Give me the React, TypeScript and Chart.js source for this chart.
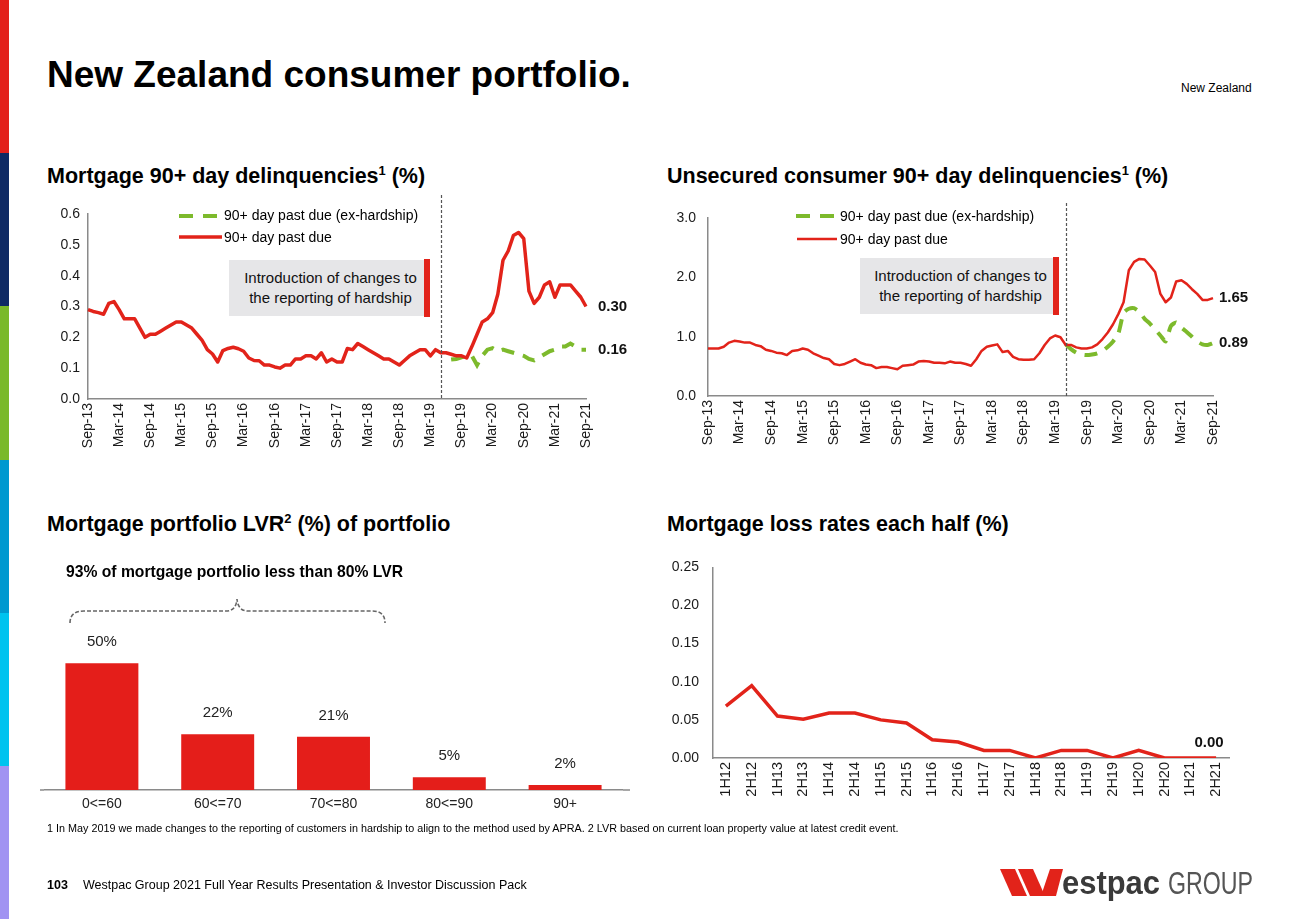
import React, { useEffect, useRef } from "react";
import { Chart, registerables } from "chart.js";
Chart.register(...registerables);

const FONT = "Arial, 'Liberation Sans', Helvetica, sans-serif";
Chart.defaults.font.family = FONT;

const RED = "#e2231a";
const GREEN = "#7dba2c";
const AXIS = "#8a8a8a";
const TXT = "#1a1a1a";

// ---------- DATA ----------
const monthNames = ["Jan", "Feb", "Mar", "Apr", "May", "Jun", "Jul", "Aug", "Sep", "Oct", "Nov", "Dec"];
const months: string[] = [];
for (let i = 0; i < 97; i++) {
  const m = (8 + i) % 12;
  const y = 13 + Math.floor((8 + i) / 12);
  months.push(`${monthNames[m]}-${y}`);
}
const monthTicks = ["Sep-13", "Mar-14", "Sep-14", "Mar-15", "Sep-15", "Mar-16", "Sep-16", "Mar-17", "Sep-17", "Mar-18", "Sep-18", "Mar-19", "Sep-19", "Mar-20", "Sep-20", "Mar-21", "Sep-21"];
const hardshipChangeMonth = "May-19";

const mortgageTotal = [
  0.29, 0.284, 0.28, 0.275, 0.31, 0.316, 0.29, 0.26, 0.26, 0.26,
  0.23, 0.2, 0.21, 0.21, 0.22, 0.23, 0.24, 0.25, 0.25, 0.24,
  0.23, 0.21, 0.19, 0.16, 0.146, 0.12, 0.157, 0.164, 0.168, 0.163,
  0.155, 0.133, 0.125, 0.124, 0.11, 0.11, 0.104, 0.1, 0.11, 0.11,
  0.13, 0.13, 0.14, 0.14, 0.13, 0.15, 0.12, 0.13, 0.12, 0.12,
  0.164, 0.16, 0.18, 0.17, 0.16, 0.15, 0.14, 0.13, 0.13, 0.12,
  0.11, 0.125, 0.14, 0.15, 0.16, 0.16, 0.14, 0.16, 0.15, 0.15,
  0.145, 0.14, 0.14, 0.133, 0.17, 0.21, 0.25, 0.26, 0.28, 0.34,
  0.45, 0.48, 0.53, 0.54, 0.52, 0.35, 0.31, 0.33, 0.37, 0.38,
  0.33, 0.37, 0.37, 0.37, 0.35, 0.33, 0.3,
];
const mortgageExHardshipTail = [
  0.128, 0.13, 0.135, 0.14, 0.14, 0.11, 0.14, 0.16, 0.165, 0.155,
  0.16, 0.155, 0.15, 0.145, 0.14, 0.13, 0.125, 0.135, 0.145, 0.155,
  0.16, 0.17, 0.17, 0.18, 0.17, 0.16, 0.16,
];

const unsecuredTotal = [
  0.8, 0.8, 0.8, 0.83, 0.9, 0.93, 0.92, 0.9, 0.9, 0.86,
  0.84, 0.78, 0.76, 0.73, 0.72, 0.69, 0.76, 0.77, 0.8, 0.78,
  0.72, 0.68, 0.64, 0.62, 0.54, 0.52, 0.54, 0.58, 0.62, 0.56,
  0.53, 0.52, 0.47, 0.49, 0.49, 0.47, 0.45, 0.51, 0.52, 0.53,
  0.58, 0.59, 0.58, 0.56, 0.56, 0.55, 0.58, 0.56, 0.56, 0.54,
  0.51, 0.62, 0.76, 0.83, 0.85, 0.87, 0.74, 0.76, 0.66, 0.62,
  0.61, 0.61, 0.62, 0.72, 0.86, 0.97, 1.02, 0.99, 0.86, 0.86,
  0.82, 0.8, 0.8, 0.82, 0.87, 0.96, 1.07, 1.21, 1.38, 1.58,
  2.12, 2.26, 2.31, 2.3, 2.2, 2.09, 1.72, 1.58, 1.66, 1.93,
  1.95, 1.89, 1.8, 1.72, 1.62, 1.62, 1.65,
];
const unsecuredExHardshipTail = [
  0.87, 0.79, 0.73, 0.7, 0.69, 0.7, 0.72, 0.76, 0.83, 0.92,
  1.05, 1.4, 1.47, 1.48, 1.42, 1.3, 1.22, 1.12, 1.02, 0.92,
  1.18, 1.24, 1.15, 1.08, 1.0, 0.92, 0.87, 0.86, 0.89,
];

const lvrBands = ["0<=60", "60<=70", "70<=80", "80<=90", "90+"];
const lvrShares = [50, 22, 21, 5, 2];

const halves = ["1H12", "2H12", "1H13", "2H13", "1H14", "2H14", "1H15", "2H15", "1H16", "2H16", "1H17", "2H17", "1H18", "2H18", "1H19", "2H19", "1H20", "2H20", "1H21", "2H21"];
const lossRates = [0.068, 0.095, 0.055, 0.051, 0.059, 0.059, 0.05, 0.046, 0.024, 0.021, 0.01, 0.01, 0.0, 0.01, 0.01, 0.0, 0.01, 0.0, 0.0, 0.0];

// pad tails to full month length
function padTail(tail: number[]): (number | null)[] {
  const out: (number | null)[] = [];
  for (let i = 0; i < months.length - tail.length; i++) out.push(null);
  return out.concat(tail);
}

// ---------- PLUGINS ----------
const endLabels = (dx: number, dy: number, align: CanvasTextAlign) => ({
  id: "endLabels",
  afterDatasetsDraw(chart: any) {
    const ctx = chart.ctx;
    chart.data.datasets.forEach((ds: any, i: number) => {
      const meta = chart.getDatasetMeta(i);
      const n = ds.data.length - 1;
      const el = meta.data[n];
      const v = ds.data[n];
      if (v == null || !el) return;
      ctx.save();
      ctx.font = `bold 15px ${FONT}`;
      ctx.fillStyle = "#111";
      ctx.textAlign = align;
      ctx.textBaseline = "middle";
      ctx.fillText(Number(v).toFixed(2), el.x + dx, el.y + dy);
      ctx.restore();
    });
  },
});

const vline = (label: string, topY: number) => ({
  id: "vline",
  afterDraw(chart: any) {
    const xs = chart.scales.x;
    const idx = (chart.data.labels as string[]).indexOf(label);
    const x = Math.round(xs.getPixelForValue(idx)) + 0.5;
    const ctx = chart.ctx;
    ctx.save();
    ctx.strokeStyle = "#555";
    ctx.lineWidth = 1.2;
    ctx.setLineDash([3, 2]);
    ctx.beginPath();
    ctx.moveTo(x, topY);
    ctx.lineTo(x, chart.chartArea.bottom);
    ctx.stroke();
    ctx.restore();
  },
});

const barLabels = {
  id: "barLabels",
  afterDatasetsDraw(chart: any) {
    const ctx = chart.ctx;
    const meta = chart.getDatasetMeta(0);
    const ds = chart.data.datasets[0];
    meta.data.forEach((el: any, i: number) => {
      ctx.save();
      ctx.font = `15px ${FONT}`;
      ctx.fillStyle = "#222";
      ctx.textAlign = "center";
      ctx.textBaseline = "middle";
      ctx.fillText(`${ds.data[i]}%`, el.x, el.y - 21);
      ctx.restore();
    });
  },
};

// ---------- CONFIG BUILDERS ----------
function monthLineConfig(o: {
  total: number[];
  ex: (number | null)[];
  max: number;
  step: number;
  redWidth: number;
  padTop: number;
  padRight: number;
  yWidth: number;
  yPad: number;
  xHeight: number;
  vTop: number;
  labelDx: number;
  exTension: number;
}): any {
  return {
    type: "line",
    data: {
      labels: months,
      datasets: [
        { data: o.total, borderColor: RED, borderWidth: o.redWidth, pointRadius: 0, tension: 0, borderJoinStyle: "round" },
        { data: o.ex, borderColor: GREEN, borderWidth: 4, borderDash: [13, 9], pointRadius: 0, tension: o.exTension },
      ],
    },
    options: {
      responsive: false,
      animation: false,
      events: [],
      layout: { padding: { top: o.padTop, right: o.padRight, left: 0, bottom: 0 } },
      plugins: { legend: { display: false }, tooltip: { enabled: false } },
      scales: {
        x: {
          grid: { display: false, drawTicks: false },
          border: { color: AXIS, width: 1.5 },
          ticks: {
            autoSkip: false,
            maxRotation: 90,
            minRotation: 90,
            padding: 4,
            color: TXT,
            font: { family: FONT, size: 14 },
            callback: (_v: any, i: number) => (monthTicks.includes(months[i]) ? months[i] : ""),
          },
          afterFit: (s: any) => {
            s.height = o.xHeight;
          },
        },
        y: {
          min: 0,
          max: o.max,
          grid: { display: false, drawTicks: false },
          border: { color: AXIS, width: 1.5 },
          ticks: {
            stepSize: o.step,
            padding: o.yPad,
            color: TXT,
            font: { family: FONT, size: 14 },
            callback: (v: any) => Number(v).toFixed(1),
          },
          afterFit: (s: any) => {
            s.width = o.yWidth;
          },
        },
      },
    },
    plugins: [vline(hardshipChangeMonth, o.vTop), endLabels(o.labelDx, 0, "left")],
  };
}

function barConfig(): any {
  return {
    type: "bar",
    data: {
      labels: lvrBands,
      datasets: [{ data: lvrShares, backgroundColor: "#e41e1a", categoryPercentage: 1, barPercentage: 0.63 }],
    },
    options: {
      responsive: false,
      animation: false,
      events: [],
      layout: { padding: { top: 40, right: 0, left: 0, bottom: 0 } },
      plugins: { legend: { display: false }, tooltip: { enabled: false } },
      scales: {
        x: {
          grid: { display: false, drawTicks: false },
          border: { color: AXIS, width: 1.5 },
          ticks: { padding: 6, color: "#222", font: { family: FONT, size: 14 } },
          afterFit: (s: any) => {
            s.height = 25;
          },
        },
        y: { display: false, min: 0, max: 75 },
      },
    },
    plugins: [barLabels],
  };
}

function lossConfig(): any {
  return {
    type: "line",
    data: {
      labels: halves,
      datasets: [{ data: lossRates, borderColor: RED, borderWidth: 3.5, pointRadius: 0, tension: 0 }],
    },
    options: {
      responsive: false,
      animation: false,
      events: [],
      layout: { padding: { top: 12, right: 31, left: 0, bottom: 0 } },
      plugins: { legend: { display: false }, tooltip: { enabled: false } },
      scales: {
        x: {
          offset: true,
          grid: { display: false, drawTicks: false, offset: true },
          border: { color: AXIS, width: 1.5 },
          ticks: { autoSkip: false, maxRotation: 90, minRotation: 90, padding: 4, color: TXT, font: { family: FONT, size: 14.5 } },
          afterFit: (s: any) => {
            s.height = 57;
          },
        },
        y: {
          min: 0,
          max: 0.25,
          grid: { display: false, drawTicks: false },
          border: { color: AXIS, width: 1.5 },
          ticks: { stepSize: 0.05, padding: 14, color: TXT, font: { family: FONT, size: 14 }, callback: (v: any) => Number(v).toFixed(2) },
          afterFit: (s: any) => {
            s.width = 53;
          },
        },
      },
    },
    plugins: [endLabels(-7, -15, "center")],
  };
}

// ---------- COMPONENTS ----------
function ChartBox(props: { left: number; top: number; width: number; height: number; build: () => any }) {
  const ref = useRef<HTMLCanvasElement>(null);
  useEffect(() => {
    const chart = new Chart(ref.current as HTMLCanvasElement, props.build());
    return () => chart.destroy();
  }, []);
  return (
    <canvas
      ref={ref}
      width={props.width}
      height={props.height}
      style={{ position: "absolute", left: props.left, top: props.top, width: props.width, height: props.height }}
    />
  );
}

function Txt(props: { x: number; y: number; size: number; bold?: boolean; children: any; style?: any }) {
  return (
    <div
      style={{
        position: "absolute",
        left: props.x,
        top: props.y,
        fontSize: props.size,
        lineHeight: `${props.size}px`,
        fontWeight: props.bold ? "bold" : "normal",
        whiteSpace: "nowrap",
        color: "#000",
        ...props.style,
      }}
    >
      {props.children}
    </div>
  );
}

function Note(props: { left: number; top: number; width: number }) {
  return (
    <>
      <div
        style={{
          position: "absolute",
          left: props.left,
          top: props.top,
          width: props.width,
          height: 56,
          background: "#e6e6e8",
          display: "flex",
          alignItems: "center",
          justifyContent: "center",
          paddingLeft: 8,
          boxSizing: "border-box",
          fontSize: 15,
          lineHeight: "20px",
          textAlign: "center",
          color: "#111",
        }}
      >
        <div>
          Introduction of changes to
          <br />
          the reporting of hardship
        </div>
      </div>
      <div style={{ position: "absolute", left: props.left + props.width, top: props.top - 1, width: 6, height: 58, background: RED }} />
    </>
  );
}

const sup = { fontSize: "0.6em", verticalAlign: "0.6em", lineHeight: 0 };

export default function App() {
  const stripe = ["#e3201b", "#0f2a64", "#7ab929", "#0099d0", "#00c3ef", "#a193f2"];
  return (
    <div
      style={{
        position: "absolute",
        left: 0,
        top: 0,
        width: 1300,
        height: 919,
        background: "#fff",
        overflow: "hidden",
        fontFamily: FONT,
      }}
    >
      {stripe.map((c, i) => (
        <div key={c} style={{ position: "absolute", left: 0, top: Math.round(i * 153.2), width: 9, height: 154, background: c }} />
      ))}

      <Txt x={47} y={56} size={37} bold>
        New Zealand consumer portfolio.
      </Txt>
      <Txt x={1181} y={82} size={12}>
        New Zealand
      </Txt>

      <Txt x={47} y={166} size={21.5} bold>
        Mortgage 90+ day delinquencies<sup style={sup}>1</sup> (%)
      </Txt>
      <Txt x={667} y={166} size={21.5} bold>
        Unsecured consumer 90+ day delinquencies<sup style={sup}>1</sup> (%)
      </Txt>
      <Txt x={47} y={514} size={21.5} bold>
        Mortgage portfolio LVR<sup style={sup}>2</sup> (%) of portfolio
      </Txt>
      <Txt x={667} y={514} size={21.5} bold>
        Mortgage loss rates each half (%)
      </Txt>

      <ChartBox
        left={40}
        top={190}
        width={600}
        height={270}
        build={() =>
          monthLineConfig({
            total: mortgageTotal,
            ex: padTail(mortgageExHardshipTail),
            max: 0.6,
            step: 0.1,
            redWidth: 3.5,
            padTop: 24,
            padRight: 54,
            yWidth: 48,
            yPad: 8,
            xHeight: 61,
            vTop: 5,
            labelDx: 12,
            exTension: 0,
          })
        }
      />
      <ChartBox
        left={660}
        top={190}
        width={600}
        height={270}
        build={() =>
          monthLineConfig({
            total: unsecuredTotal,
            ex: padTail(unsecuredExHardshipTail),
            max: 3.0,
            step: 1.0,
            redWidth: 2.5,
            padTop: 28,
            padRight: 47,
            yWidth: 48,
            yPad: 12,
            xHeight: 64,
            vTop: 13,
            labelDx: 6,
            exTension: 0.2,
          })
        }
      />
      <ChartBox left={44} top={560} width={579} height={255} build={barConfig} />
      <ChartBox left={660} top={545} width={600} height={270} build={lossConfig} />

      <Note left={229} top={260} width={195} />
      <Note left={860} top={258} width={193} />

      <Txt x={224} y={208} size={14}>
        90+ day past due (ex-hardship)
      </Txt>
      <Txt x={224} y={230} size={14}>
        90+ day past due
      </Txt>
      <Txt x={840} y={209} size={14}>
        90+ day past due (ex-hardship)
      </Txt>
      <Txt x={840} y={232} size={14}>
        90+ day past due
      </Txt>

      <Txt x={66} y={564} size={15.7} bold>
        93% of mortgage portfolio less than 80% LVR
      </Txt>

      <svg width={1300} height={919} style={{ position: "absolute", left: 0, top: 0, pointerEvents: "none" }}>
        <line x1={179} x2={218} y1={216} y2={216} stroke={GREEN} strokeWidth={4} strokeDasharray="14 10" />
        <line x1={179} x2={222} y1={237} y2={237} stroke={RED} strokeWidth={3.5} />
        <line x1={796} x2={834} y1={216} y2={216} stroke={GREEN} strokeWidth={4} strokeDasharray="14 10" />
        <line x1={797} x2={837} y1={239} y2={239} stroke={RED} strokeWidth={2.5} />
        <line x1={40} x2={44} y1={790} y2={790} stroke={AXIS} strokeWidth={1.5} />
        <line x1={623} x2={630} y1={790} y2={790} stroke={AXIS} strokeWidth={1.5} />
        <path
          d="M70 623 Q70 611 84 611 L226 611 Q236 611 237 599 Q238 611 248 611 L372 611 Q385 611 385 623"
          fill="none"
          stroke="#666"
          strokeWidth={1.6}
          strokeDasharray="4 2"
        />
        <polygon points="1000,869 1015,869 1027,896 1012,896" fill={RED} />
        <polygon points="1018,869 1033,869 1045,896 1030,896" fill={RED} />
        <polygon points="1041,896 1050,869 1063,869 1056,896" fill={RED} />
        <text x={1062} y={894} fontFamily={FONT} fontWeight="bold" fontSize={33} fill="#3a3a3a" textLength={98} lengthAdjust="spacingAndGlyphs">
          estpac
        </text>
        <text x={1168} y={894} fontFamily={FONT} fontSize={31} fill="#555" textLength={85} lengthAdjust="spacingAndGlyphs">
          GROUP
        </text>
      </svg>

      <Txt x={47} y={823} size={10.8}>
        1 In May 2019 we made changes to the reporting of customers in hardship to align to the method used by APRA. 2 LVR based on current loan property value at latest credit event.
      </Txt>
      <Txt x={47} y={879} size={12.5} bold>
        103
      </Txt>
      <Txt x={83} y={879} size={12.5}>
        Westpac Group 2021 Full Year Results Presentation &amp; Investor Discussion Pack
      </Txt>
    </div>
  );
}
